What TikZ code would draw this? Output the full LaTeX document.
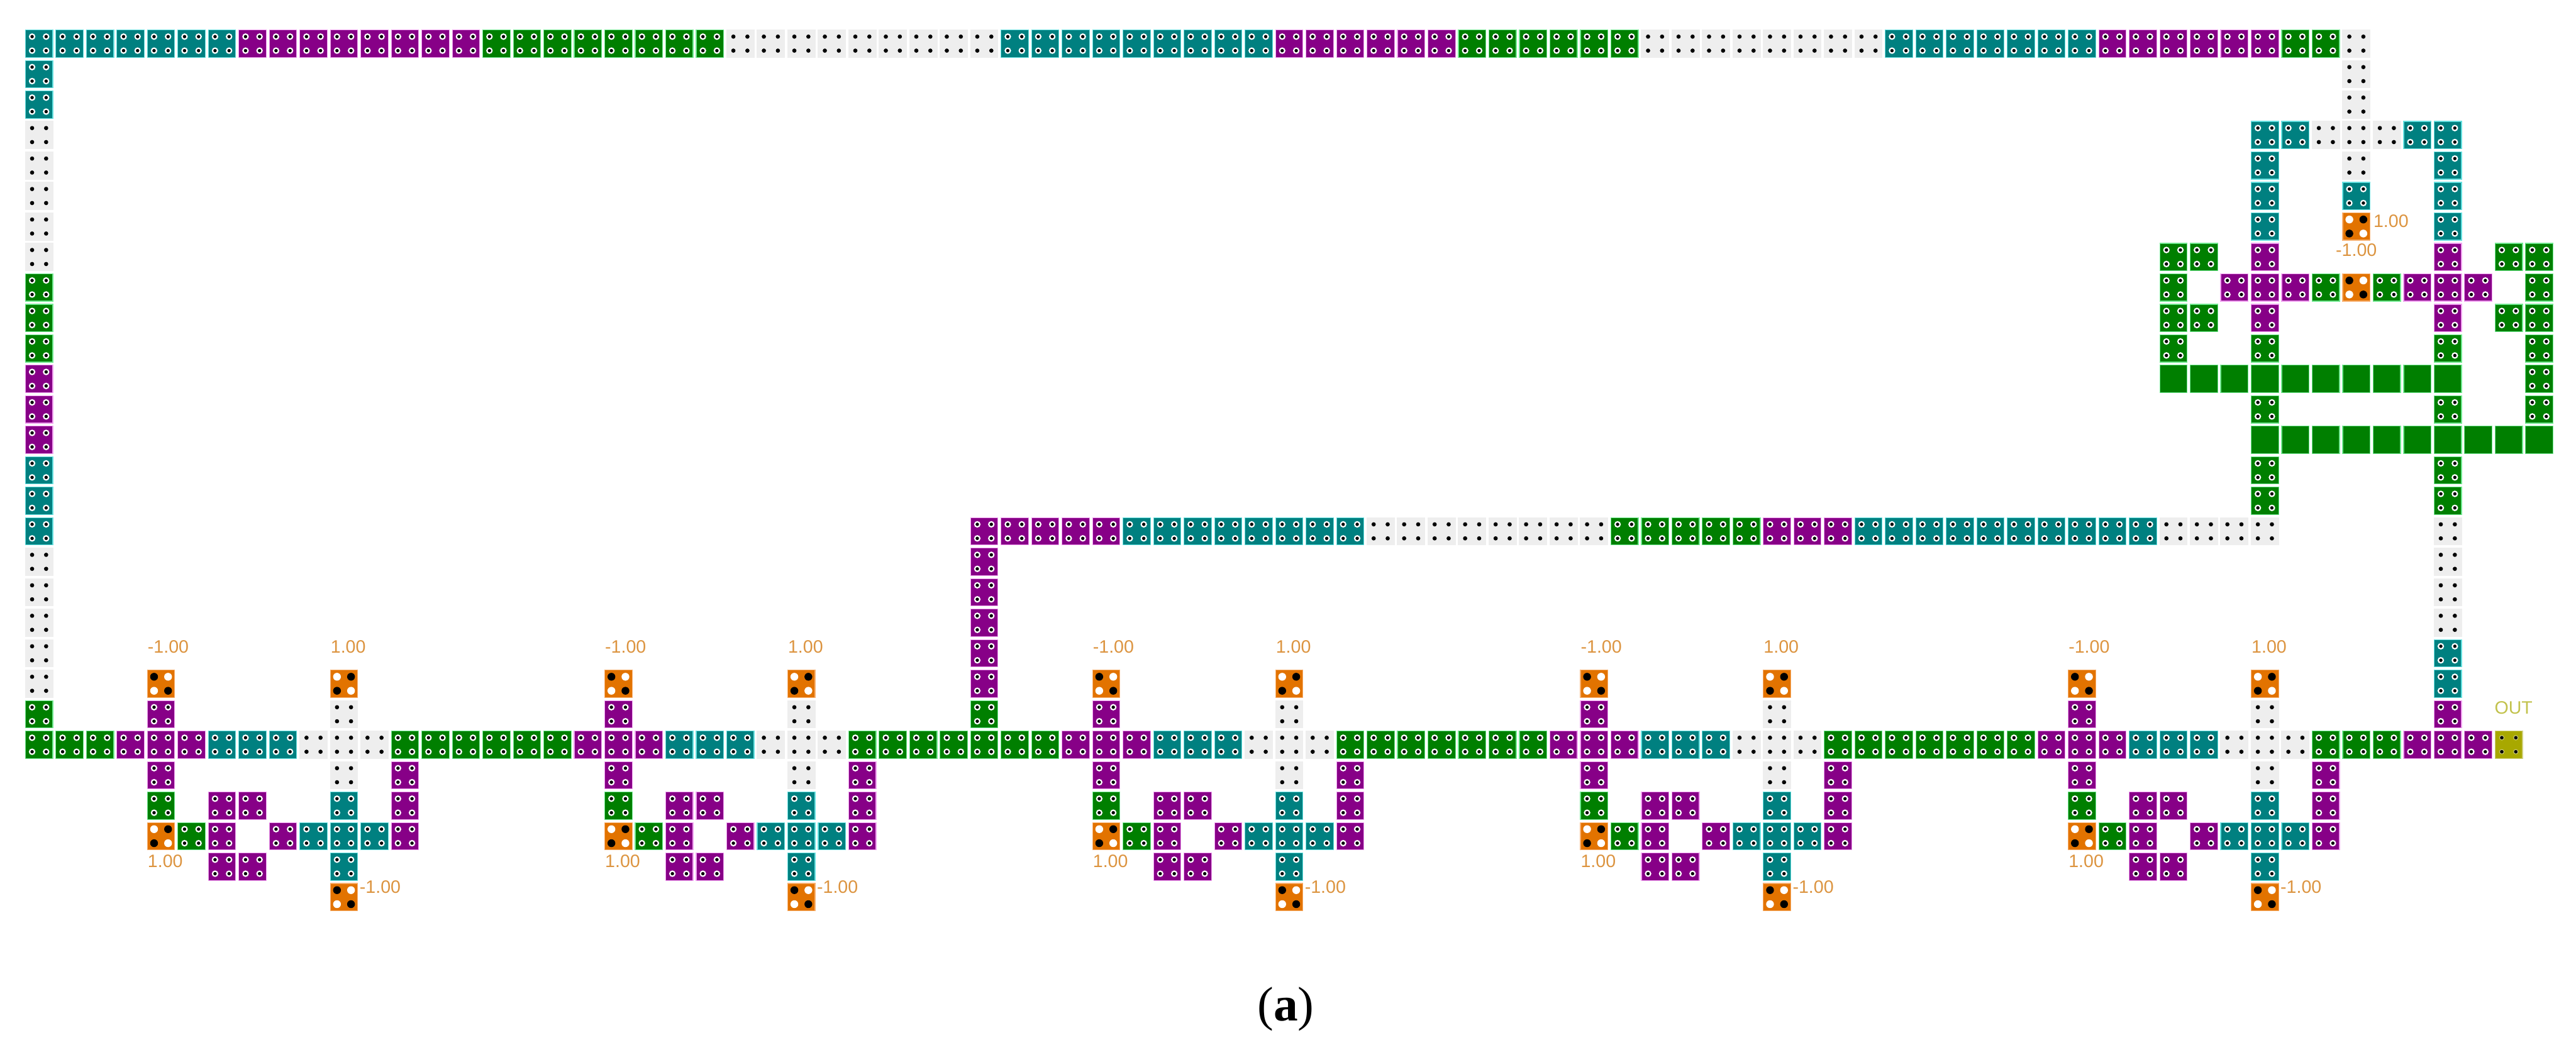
\documentclass[tikz,border=0pt]{standalone}
\usepackage{fontspec}
\setmainfont{Liberation Serif}
\setsansfont{Liberation Sans}
\usepackage{xcolor}
\usepackage{tikz}
\definecolor{qcaTeal}{HTML}{008080}
\definecolor{qcaTealL}{HTML}{66E0E0}
\definecolor{qcaPurple}{HTML}{870087}
\definecolor{qcaPurpleL}{HTML}{F0A0F0}
\definecolor{qcaGreen}{HTML}{007F00}
\definecolor{qcaGreenL}{HTML}{70E890}
\definecolor{qcaOrange}{HTML}{E27300}
\definecolor{qcaOrangeL}{HTML}{F8B070}
\definecolor{qcaOlive}{HTML}{A8A800}
\definecolor{qcaOliveL}{HTML}{D0D080}
\definecolor{qcaGray}{HTML}{EEEEEE}
\definecolor{qcaText}{HTML}{DC9440}
\tikzset{
  qca-box/.style={draw, line width=0.35pt, inner sep=0pt, minimum size=12.95pt},
  qca-teal/.style={qca-box, draw=qcaTealL, fill=qcaTeal},
  qca-purple/.style={qca-box, draw=qcaPurpleL, fill=qcaPurple},
  qca-green/.style={qca-box, draw=qcaGreenL, fill=qcaGreen},
  qca-solid/.style={qca-box, draw=qcaGreenL, fill=qcaGreen},
  qca-orange/.style={qca-box, draw=qcaOrangeL, fill=qcaOrange},
  qca-olive/.style={qca-box, draw=qcaOliveL, fill=qcaOlive},
  qca-wire/.style={qca-box, draw=qcaGray, fill=qcaGray},
  qca-ring/.style={draw=white, fill=black, line width=0.65pt, radius=1.2pt},
  qca-dot-teal/.style={qca-ring},
  qca-dot-purple/.style={qca-ring},
  qca-dot-green/.style={qca-ring},
  qca-dot-olive/.style={draw=qcaOliveL, fill=black, line width=0.3pt, radius=1.05pt},
  qca-dot-wire/.style={fill=black, radius=1pt},
  qca-label/.style={font=\fontsize{8.5}{10}\sffamily, text=qcaText, inner sep=0pt}
}
\newcommand{\qcacell}[3]{%
  \node[qca-#1] (c#2-#3) at (#2,#3) {};
  \foreach \dx/\dy in {-.23/-.23, .23/-.23, -.23/.23, .23/.23}{
    \path[qca-dot-#1] (#2+\dx,#3+\dy) circle;
  }
}
% fixed cell: #3 on the main diagonal, #4 on the other one
\newcommand{\qcafixed}[4]{%
  \node[qca-orange] (c#1-#2) at (#1,#2) {};
  \fill[#3] (#1-.23,#2-.23) circle [radius=1.85pt] (#1+.23,#2+.23) circle [radius=1.85pt];
  \fill[#4] (#1+.23,#2-.23) circle [radius=1.85pt] (#1-.23,#2+.23) circle [radius=1.85pt];
}
\begin{document}
\begin{tikzpicture}[x=5.067mm, y=-5.067mm]
\useasboundingbox (-1.283,-1.431) rectangle (83.205,32.830);
% Wires, row by row
\foreach \r/\a/\b/\k in {
  0/0/6/teal, 0/7/14/purple, 0/15/22/green, 0/23/31/wire, 0/32/40/teal,
  0/41/46/purple, 0/47/52/green, 0/53/60/wire, 0/61/67/teal, 0/68/73/purple,
  0/74/75/green, 0/76/76/wire,
  16/31/35/purple, 16/36/43/teal, 16/44/51/wire, 16/52/56/green,
  16/57/59/purple, 16/60/69/teal, 16/70/73/wire,
  23/0/2/green, 23/12/17/green, 23/27/33/green, 23/43/49/green,
  23/59/65/green, 23/75/77/green, 23/78/80/purple, 23/81/81/olive}{
  \foreach \c in {\a,...,\b}{\qcacell{\k}{\c}{\r}}
}
% Wires, column by column
\foreach \c/\a/\b/\k in {
  0/1/2/teal, 0/3/7/wire, 0/8/10/green, 0/11/13/purple, 0/14/16/teal,
  0/17/21/wire, 0/22/22/green,
  31/17/21/purple, 31/22/22/green,
  76/1/2/wire, 76/3/4/wire, 76/5/5/teal,
  73/3/6/teal, 79/3/6/teal, 73/7/7/purple, 79/7/7/purple,
  73/9/9/purple, 79/9/9/purple, 70/7/10/green, 82/7/10/green,
  82/11/12/green, 73/10/10/green, 79/10/10/green, 73/12/12/green,
  79/12/12/green, 73/14/15/green, 79/14/15/green,
  79/16/19/wire, 79/20/21/teal, 79/22/22/purple}{
  \foreach \r in {\a,...,\b}{\qcacell{\k}{\c}{\r}}
}
% Crossover block
\foreach \c/\r/\k in {
  74/3/teal, 75/3/wire, 77/3/wire, 78/3/teal,
  71/7/green, 81/7/green, 71/9/green, 81/9/green,
  72/8/purple, 73/8/purple, 74/8/purple, 75/8/green,
  77/8/green, 78/8/purple, 79/8/purple, 80/8/purple}{
  \qcacell{\k}{\c}{\r}
}
\foreach \c in {70,...,79}{\node[qca-solid] (c\c-11) at (\c,11) {};}
\foreach \c in {73,...,82}{\node[qca-solid] (c\c-13) at (\c,13) {};}
\qcafixed{76}{6}{white}{black}
\qcafixed{76}{8}{black}{white}
\node[qca-label, anchor=west] (lbl-right) at (76.55,5.83) {1.00};
\node[qca-label] (lbl-under) at (76.0,6.78) {-1.00};
% Repeated units on the bottom line
\foreach \u in {0,15,31,47,63}{
  \foreach \i/\r/\k in {
    4/22/purple, 10/22/wire,
    3/23/purple, 4/23/purple, 5/23/purple, 6/23/teal, 7/23/teal, 8/23/teal,
    9/23/wire, 10/23/wire, 11/23/wire,
    4/24/purple, 10/24/wire, 12/24/purple,
    4/25/green, 6/25/purple, 7/25/purple, 10/25/teal, 12/25/purple,
    5/26/green, 6/26/purple, 8/26/purple, 9/26/teal, 10/26/teal, 11/26/teal, 12/26/purple,
    6/27/purple, 7/27/purple, 10/27/teal}{
    \pgfmathtruncatemacro{\cc}{\i+\u}
    \qcacell{\k}{\cc}{\r}
  }
  \pgfmathtruncatemacro{\ca}{4+\u}
  \pgfmathtruncatemacro{\cb}{10+\u}
  \qcafixed{\ca}{21}{black}{white}
  \qcafixed{\cb}{21}{white}{black}
  \qcafixed{\ca}{26}{white}{black}
  \qcafixed{\cb}{28}{black}{white}
  \node[qca-label, anchor=west] (lbl-a\u) at (\ca-.45,19.78) {-1.00};
  \node[qca-label, anchor=west] (lbl-b\u) at (\cb-.45,19.78) {1.00};
  \node[qca-label, anchor=west] (lbl-c\u) at (\ca-.45,26.83) {1.00};
  \node[qca-label, anchor=west] (lbl-d\u) at (\cb+.5,27.67) {-1.00};
}
\node[qca-label, text=qcaOlive!70!white, anchor=west] (lbl-out) at (80.52,21.78) {OUT};
\node[anchor=base, inner sep=0pt, font=\fontsize{23}{28}\selectfont] (caption) at (40.89,32.06) {(\textbf{a})};
\end{tikzpicture}
\end{document}
